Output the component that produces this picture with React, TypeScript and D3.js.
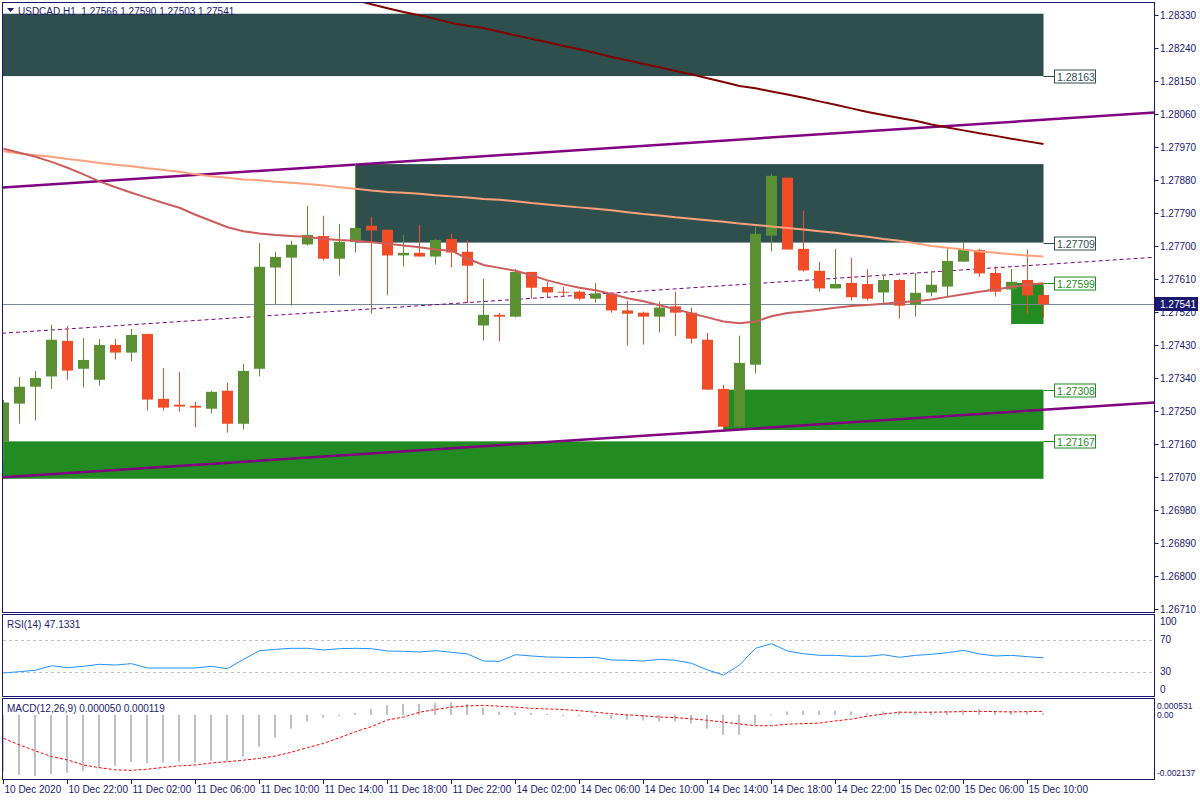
import { useEffect, useRef } from "react"
import * as d3 from "d3"

// USDCAD H1 candles: open, high, low, close
const candles: [number, number, number, number][] = [
  [1.27166, 1.2728, 1.27108, 1.27273],
  [1.2727, 1.27343, 1.27215, 1.27316],
  [1.27316, 1.27359, 1.27224, 1.2734],
  [1.27344, 1.27485, 1.2731, 1.27444],
  [1.27441, 1.27482, 1.27335, 1.2736],
  [1.27365, 1.27449, 1.27314, 1.27389],
  [1.27335, 1.27446, 1.27319, 1.2743],
  [1.2743, 1.27446, 1.2739, 1.27409],
  [1.27409, 1.27474, 1.27385, 1.27457],
  [1.2746, 1.2746, 1.27251, 1.27281],
  [1.27283, 1.27367, 1.27251, 1.27259],
  [1.27267, 1.27356, 1.27248, 1.27262],
  [1.27264, 1.27275, 1.27205, 1.27259],
  [1.27256, 1.27305, 1.27243, 1.27302],
  [1.27305, 1.27327, 1.27191, 1.27215],
  [1.27215, 1.27378, 1.27199, 1.27359],
  [1.27365, 1.27708, 1.27344, 1.27643],
  [1.27641, 1.27684, 1.2754, 1.2767],
  [1.27668, 1.27714, 1.27537, 1.27703],
  [1.27704, 1.27809, 1.27701, 1.2773],
  [1.27727, 1.27782, 1.2766, 1.27665],
  [1.27665, 1.2776, 1.27619, 1.27711],
  [1.27711, 1.27923, 1.27682, 1.27749],
  [1.27755, 1.27779, 1.27515, 1.27742],
  [1.27744, 1.27744, 1.27565, 1.27674],
  [1.27674, 1.2773, 1.27644, 1.27681],
  [1.27681, 1.27757, 1.27671, 1.27671],
  [1.27671, 1.27719, 1.27649, 1.27716],
  [1.27719, 1.27733, 1.27641, 1.27682],
  [1.27684, 1.27716, 1.27544, 1.27646],
  [1.27483, 1.2761, 1.27442, 1.27512],
  [1.27512, 1.27517, 1.2744, 1.27507],
  [1.27507, 1.27637, 1.27505, 1.27629],
  [1.27629, 1.27629, 1.27556, 1.27586],
  [1.27588, 1.27602, 1.2756, 1.27573],
  [1.27575, 1.27589, 1.27562, 1.27573],
  [1.27575, 1.27578, 1.27551, 1.27556],
  [1.27556, 1.27599, 1.27545, 1.2757],
  [1.2757, 1.2757, 1.27518, 1.27524],
  [1.27524, 1.27551, 1.27428, 1.27515],
  [1.27518, 1.27521, 1.27431, 1.27507],
  [1.27507, 1.27548, 1.27464, 1.27532],
  [1.27535, 1.27575, 1.27455, 1.27518],
  [1.27518, 1.27532, 1.27434, 1.27447],
  [1.27444, 1.27463, 1.27308, 1.27308],
  [1.2731, 1.27321, 1.27202, 1.27207],
  [1.27207, 1.27455, 1.27202, 1.27381],
  [1.27376, 1.27755, 1.27352, 1.27733],
  [1.27728, 1.27896, 1.27685, 1.27891],
  [1.27886, 1.27886, 1.2769, 1.2769],
  [1.27692, 1.27796, 1.2763, 1.27633],
  [1.27632, 1.27656, 1.27575, 1.27584],
  [1.27584, 1.27692, 1.27584, 1.27596],
  [1.27599, 1.27667, 1.27551, 1.2756],
  [1.27596, 1.27637, 1.27551, 1.27556],
  [1.27573, 1.27618, 1.27543, 1.27607],
  [1.27607, 1.2761, 1.27502, 1.27537],
  [1.2754, 1.27626, 1.27507, 1.27572],
  [1.27573, 1.27632, 1.27562, 1.27594],
  [1.27589, 1.27697, 1.27562, 1.27659],
  [1.27657, 1.27711, 1.27657, 1.27689],
  [1.27689, 1.27692, 1.27616, 1.27625],
  [1.27626, 1.27644, 1.27562, 1.27575],
  [1.27581, 1.27637, 1.27486, 1.27602],
  [1.27607, 1.2769, 1.27513, 1.27565],
  [1.27566, 1.2759, 1.27503, 1.27541],
]

// moving averages (fast = indian red, slow = light salmon, long = maroon)
const maFast = [
  1.27965, 1.27954, 1.27943, 1.27929, 1.27913, 1.27895, 1.27876, 1.2786, 1.27845, 1.27831,
  1.27817, 1.27804, 1.27785, 1.27768, 1.27751, 1.2774, 1.27734, 1.2773, 1.27727, 1.27725,
  1.27719, 1.27716, 1.27714, 1.2771, 1.27706, 1.27701, 1.27696, 1.2769, 1.27687, 1.27665,
  1.27648, 1.2764, 1.27632, 1.2762, 1.27606, 1.27595, 1.27586, 1.27579, 1.27569, 1.27557,
  1.27549, 1.27538, 1.27527, 1.27516, 1.27505, 1.27494, 1.27489, 1.27494, 1.27508, 1.27517,
  1.27521, 1.27526, 1.27531, 1.27536, 1.27539, 1.27542, 1.27546, 1.27549, 1.27554, 1.27561,
  1.27568, 1.27575, 1.27581, 1.27588, 1.27594, 1.27598,
]
const maSlow = [
  1.27958, 1.27952, 1.27947, 1.27943, 1.27937, 1.27932, 1.27926, 1.27921, 1.27917, 1.27912,
  1.27907, 1.27902, 1.27895, 1.2789, 1.27886, 1.27881, 1.27879, 1.27875, 1.27872, 1.27869,
  1.27865, 1.2786, 1.27856, 1.27851, 1.27847, 1.27845, 1.27842, 1.27838, 1.27835, 1.27832,
  1.27828, 1.27826, 1.27822, 1.27817, 1.27813, 1.27809, 1.27805, 1.27801, 1.27797, 1.27792,
  1.27787, 1.27783, 1.27778, 1.27774, 1.2777, 1.27766, 1.27761, 1.27757, 1.27753, 1.27749,
  1.27745, 1.2774, 1.27736, 1.2773, 1.27725, 1.27719, 1.27714, 1.27707, 1.277, 1.27695,
  1.2769, 1.27685, 1.27681, 1.27677, 1.27674, 1.27671,
]
const maLongFrom = 21
const maLong = [
  1.2838, 1.2837, 1.28359, 1.28348, 1.28338, 1.28329, 1.28319, 1.28308, 1.283, 1.28294,
  1.28284, 1.28274, 1.28265, 1.28255, 1.28245, 1.28236, 1.28226, 1.28215, 1.28206, 1.28196,
  1.28187, 1.28177, 1.28168, 1.28157, 1.28147, 1.28136, 1.2813, 1.28121, 1.28113, 1.28104,
  1.28094, 1.28085, 1.28075, 1.28065, 1.28057, 1.28049, 1.28041, 1.28031, 1.28023, 1.28015,
  1.28007, 1.28, 1.27992, 1.27985, 1.27978,
]

const rsi = [
  28.1, 29.8, 31.5, 37.3, 34.8, 36.5, 39.0, 38.1, 39.8, 34.4,
  34.4, 34.4, 34.4, 36.5, 33.5, 45.2, 56.0, 57.7, 59.0, 59.0,
  56.9, 58.5, 59.0, 58.5, 55.6, 55.2, 54.4, 56.0, 54.0, 51.9,
  43.1, 42.7, 51.0, 49.4, 48.1, 47.7, 47.3, 47.7, 44.4, 44.0,
  43.1, 45.2, 44.0, 40.2, 31.9, 25.6, 38.1, 59.0, 64.8, 55.6,
  52.2, 50.2, 50.2, 49.0, 49.0, 51.0, 47.7, 50.2, 51.5, 53.5,
  56.5, 51.9, 49.4, 50.2, 48.5, 47.1331,
]

const macdMain = [
  -0.00189, -0.002, -0.00204, -0.00197, -0.00193, -0.00187, -0.00177, -0.0017, -0.00157, -0.00161,
  -0.00159, -0.00156, -0.00159, -0.00153, -0.00153, -0.00139, -0.00106, -0.00076, -0.00046, -0.00022,
  -0.00009, -0.00001, 0.00007, 0.0002, 0.00033, 0.00037, 0.00037, 0.0004, 0.00042, 0.00036,
  0.00025, 0.00011, 0.00009, 0.00007, 0.00003, -0.00002, -0.00003, -0.00006, -0.00013, -0.00016,
  -0.00018, -0.00022, -0.00022, -0.00029, -0.00046, -0.00067, -0.00067, -0.00033, 0.00002, 0.00011,
  0.00014, 0.00014, 0.00014, 0.00011, 0.00006, 0.00011, 0.00013, 0.00006, 0.00011, 0.00013,
  0.00017, 0.0002, 0.00014, 0.00013, 0.00011, 0.00005,
]
const macdSignal = [
  -0.00078, -0.001, -0.0012, -0.00139, -0.0015, -0.00167, -0.00176, -0.00183, -0.00185, -0.00181,
  -0.00175, -0.0017, -0.00167, -0.0016, -0.00156, -0.00151, -0.00145, -0.00137, -0.00124, -0.00109,
  -0.00095, -0.00076, -0.00056, -0.00039, -0.00017, -0.00007, 0.00009, 0.00018, 0.00026, 0.0003,
  0.00032, 0.00029, 0.00026, 0.00022, 0.0002, 0.00018, 0.00014, 0.00009, 0.00004, 0.0,
  -0.00003, -0.00007, -0.00009, -0.00013, -0.00018, -0.00024, -0.0003, -0.00036, -0.00036, -0.00031,
  -0.00029, -0.00027, -0.0002, -0.00014, -0.00004, 0.00003, 0.00009, 0.00009, 0.00009, 0.0001,
  0.00011, 0.00012, 0.00011, 0.0001, 0.00011, 0.000119,
]

// one label every 4 bars
const timeLabels = [
  "10 Dec 2020", "10 Dec 22:00", "11 Dec 02:00", "11 Dec 06:00", "11 Dec 10:00", "11 Dec 14:00",
  "11 Dec 18:00", "11 Dec 22:00", "14 Dec 02:00", "14 Dec 06:00", "14 Dec 10:00", "14 Dec 14:00",
  "14 Dec 18:00", "14 Dec 22:00", "15 Dec 02:00", "15 Dec 06:00", "15 Dec 10:00",
]
const priceTicks = [
  1.2833, 1.2824, 1.2815, 1.2806, 1.2797, 1.2788, 1.2779, 1.277, 1.2761, 1.2752,
  1.2743, 1.2734, 1.2725, 1.2716, 1.2707, 1.2698, 1.2689, 1.268, 1.2671,
]
const rsiTicks = [100, 70, 30, 0]
const rsiLevels = [70, 30]
const macdTicks = [0.000531, 0, -0.002137]

// supply / demand rectangles (bar index from..to, price top..bottom)
const zones = [
  { from: -5, to: 65, top: 1.28333, bottom: 1.28163, kind: "supply" },
  { from: 22, to: 65, top: 1.27923, bottom: 1.27709, kind: "supply" },
  { from: 63, to: 65, top: 1.27599, bottom: 1.27487, kind: "demand" },
  { from: 45, to: 65, top: 1.27308, bottom: 1.27198, kind: "demand" },
  { from: -5, to: 65, top: 1.27167, bottom: 1.27065, kind: "demand" },
]
const levels = [
  { price: 1.28163, kind: "supply" },
  { price: 1.27709, kind: "supply" },
  { price: 1.27599, kind: "demand" },
  { price: 1.27308, kind: "demand" },
  { price: 1.27167, kind: "demand" },
]
// channel lines, anchored at two bars
const trendLines = [
  { i0: 0, p0: 1.27859, i1: 65, p1: 1.28044, dashed: false },
  { i0: 0, p0: 1.27462, i1: 65, p1: 1.27649, dashed: true },
  { i0: 0, p0: 1.27069, i1: 65, p1: 1.27253, dashed: false },
]
const symbol = "USDCAD,H1"
const bid = 1.27541

export default function App() {
  const svgRef = useRef<SVGSVGElement>(null)

  useEffect(() => {
    if (!svgRef.current) return
    const svg = d3.select(svgRef.current)
    svg.selectAll("*").remove()

    const font = "'Liberation Sans', Arial, sans-serif"
    const navy = "#191970"
    const zoneColor: Record<string, string> = { supply: "#2F4F4F", demand: "#228B22" }
    const bull = "#5B9032"
    const bear = "#F24C27"
    const axisX = 1154.5

    const x = d3.scaleLinear().domain([0, candles.length - 1]).range([3.5, 1043.5])
    const y = d3.scaleLinear().domain([1.26699, 1.28365]).range([613, 2])
    const yRsi = d3.scaleLinear().domain([0, 100]).range([695.5, 615.5])
    const yMacd = d3.scaleLinear().domain([-0.002137, 0.000531]).range([779, 699])

    svg.append("rect").attr("width", 1200).attr("height", 800).attr("fill", "#ffffff")

    const defs = svg.append("defs")
    const clip = (id: string, top: number, h: number) =>
      defs.append("clipPath").attr("id", id).append("rect")
        .attr("x", 3).attr("y", top).attr("width", axisX - 3).attr("height", h)
    clip("clip-main", 3, 609)
    clip("clip-rsi", 615, 81)
    clip("clip-macd", 699, 80)

    // ---------- main price panel ----------
    const main = svg.append("g").attr("clip-path", "url(#clip-main)")

    zones.forEach((z) => {
      main.append("rect")
        .attr("x", x(z.from))
        .attr("width", x(z.to) - x(z.from))
        .attr("y", y(z.top))
        .attr("height", y(z.bottom) - y(z.top))
        .attr("fill", zoneColor[z.kind])
    })

    const bidY = Math.round(y(bid)) + 0.5
    main.append("line")
      .attr("x1", 3).attr("x2", axisX).attr("y1", bidY).attr("y2", bidY)
      .attr("stroke", "#778899").attr("stroke-width", 1)

    // channel, extended to both edges of the panel
    const iLeft = x.invert(2)
    const iRight = x.invert(axisX)
    trendLines.forEach((t) => {
      const at = (i: number) => t.p0 + ((t.p1 - t.p0) * (i - t.i0)) / (t.i1 - t.i0)
      main.append("line")
        .attr("x1", x(iLeft)).attr("y1", y(at(iLeft)))
        .attr("x2", x(iRight)).attr("y2", y(at(iRight)))
        .attr("stroke", "#800080")
        .attr("stroke-width", t.dashed ? 1 : 2.5)
        .attr("stroke-dasharray", t.dashed ? "4,3" : null)
    })

    // candles
    const g = main.append("g")
    candles.forEach(([o, h, l, c], i) => {
      const col = c >= o ? bull : bear
      const cx = x(i)
      g.append("line")
        .attr("x1", cx).attr("x2", cx).attr("y1", y(h)).attr("y2", y(l))
        .attr("stroke", col).attr("stroke-width", 1)
      const top = y(Math.max(o, c))
      const bottom = y(Math.min(o, c))
      g.append("rect")
        .attr("x", cx - 5.5).attr("width", 11)
        .attr("y", top).attr("height", Math.max(1, bottom - top))
        .attr("fill", col)
    })

    const line = d3.line<number>().x((_, i) => x(i)).y((d) => y(d))
    main.append("path").attr("d", line(maSlow)).attr("fill", "none")
      .attr("stroke", "#FFA07A").attr("stroke-width", 2)
    main.append("path").attr("d", line(maFast)).attr("fill", "none")
      .attr("stroke", "#CD5C5C").attr("stroke-width", 2)
    const longLine = d3.line<number>().x((_, i) => x(i + maLongFrom)).y((d) => y(d))
    main.append("path").attr("d", longLine(maLong)).attr("fill", "none")
      .attr("stroke", "#800000").attr("stroke-width", 2)

    // price labels at the right end of the zones
    levels.forEach((lv) => {
      const ly = Math.round(y(lv.price)) + 0.5
      const col = zoneColor[lv.kind]
      svg.append("line")
        .attr("x1", x(candles.length - 1)).attr("x2", 1054.5).attr("y1", ly).attr("y2", ly)
        .attr("stroke", col)
      svg.append("rect")
        .attr("x", 1054.5).attr("y", ly - 6.5).attr("width", 41).attr("height", 13)
        .attr("fill", "#ffffff").attr("stroke", col)
      svg.append("text")
        .attr("x", 1057).attr("y", ly + 0.5)
        .attr("dominant-baseline", "central")
        .attr("font-family", font).attr("font-size", 10.5)
        .attr("fill", col)
        .text(lv.price.toFixed(5))
    })

    // header
    svg.append("path").attr("d", "M7,8 L14,8 L10.5,12 Z").attr("fill", navy)
    const last = candles[candles.length - 1]
    svg.append("text")
      .attr("x", 18).attr("y", 11)
      .attr("dominant-baseline", "central")
      .attr("font-family", font).attr("font-size", 10)
      .attr("fill", navy)
      .style("white-space", "pre")
      .text(`${symbol}  ${last.map((v) => v.toFixed(5)).join(" ")}`)

    // ---------- RSI panel ----------
    const rsiG = svg.append("g").attr("clip-path", "url(#clip-rsi)")
    rsiLevels.forEach((lv) => {
      const ly = Math.round(yRsi(lv)) + 0.5
      rsiG.append("line")
        .attr("x1", 3).attr("x2", axisX).attr("y1", ly).attr("y2", ly)
        .attr("stroke", "#C0C0C0").attr("stroke-dasharray", "3,3")
    })
    rsiG.append("path")
      .attr("d", d3.line<number>().x((_, i) => x(i)).y((d) => yRsi(d))(rsi))
      .attr("fill", "none").attr("stroke", "#1E90FF").attr("stroke-width", 1)
    svg.append("text")
      .attr("x", 7).attr("y", 624)
      .attr("dominant-baseline", "central")
      .attr("font-family", font).attr("font-size", 10).attr("fill", navy)
      .text(`RSI(14) ${rsi[rsi.length - 1].toFixed(4)}`)

    // ---------- MACD panel ----------
    const macdG = svg.append("g").attr("clip-path", "url(#clip-macd)")
    macdMain.forEach((v, i) => {
      const y0 = yMacd(0)
      const y1 = yMacd(v)
      macdG.append("rect")
        .attr("x", Math.floor(x(i)) - 1).attr("width", 2)
        .attr("y", Math.min(y0, y1)).attr("height", Math.max(1, Math.abs(y1 - y0)))
        .attr("fill", "#C0C0C0")
    })
    macdG.append("path")
      .attr("d", d3.line<number>().x((_, i) => x(i)).y((d) => yMacd(d))(macdSignal))
      .attr("fill", "none").attr("stroke", "#FF0000").attr("stroke-width", 1)
      .attr("stroke-dasharray", "3,2")
    svg.append("text")
      .attr("x", 7).attr("y", 708)
      .attr("dominant-baseline", "central")
      .attr("font-family", font).attr("font-size", 10).attr("fill", navy)
      .text(`MACD(12,26,9) ${macdMain[macdMain.length - 1].toFixed(6)} ${macdSignal[macdSignal.length - 1].toFixed(6)}`)

    // ---------- frames ----------
    const frame = svg.append("g").attr("stroke", navy).attr("stroke-width", 1).attr("fill", "none")
    ;[
      [2.5, 612.5],
      [614.5, 696.5],
      [698.5, 779.5],
    ].forEach(([t, b]) => {
      frame.append("rect").attr("x", 2.5).attr("y", t).attr("width", axisX - 2.5).attr("height", b - t)
    })

    // ---------- axes ----------
    const axisText = svg.append("g")
      .attr("font-family", font).attr("font-size", 10).attr("fill", navy)

    priceTicks.forEach((p) => {
      const ty = Math.round(y(p)) + 0.5
      svg.append("line").attr("x1", axisX).attr("x2", axisX + 4).attr("y1", ty).attr("y2", ty)
        .attr("stroke", navy)
      axisText.append("text").attr("x", 1160).attr("y", ty)
        .attr("dominant-baseline", "central").text(p.toFixed(5))
    })

    rsiTicks.forEach((v) => {
      const ty = Math.min(Math.max(yRsi(v), 621), 689.5)
      axisText.append("text").attr("x", 1160).attr("y", ty)
        .attr("dominant-baseline", "central").text(String(v))
    })

    macdTicks.forEach((v) => {
      const ty = Math.min(Math.max(yMacd(v), 706), 773)
      axisText.append("text").attr("x", 1157).attr("y", ty)
        .attr("dominant-baseline", "central")
        .attr("font-size", 8.5)
        .text(v === 0 ? "0.00" : v.toFixed(6))
    })

    // bid price tag
    svg.append("rect")
      .attr("x", 1155).attr("y", bidY - 7.5).attr("width", 43).attr("height", 14)
      .attr("fill", navy)
    svg.append("text")
      .attr("x", 1160).attr("y", bidY)
      .attr("dominant-baseline", "central")
      .attr("font-family", font).attr("font-size", 10).attr("fill", "#ffffff")
      .text(bid.toFixed(5))

    // time axis
    timeLabels.forEach((label, k) => {
      const tx = x(k * 4)
      svg.append("line").attr("x1", tx).attr("x2", tx).attr("y1", 779.5).attr("y2", 784)
        .attr("stroke", navy)
      axisText.append("text").attr("x", tx + 1).attr("y", 789)
        .attr("dominant-baseline", "central").text(label)
    })
  }, [])

  return (
    <svg
      ref={svgRef}
      width={1200}
      height={800}
      style={{ position: "absolute", left: 0, top: 0, display: "block" }}
    />
  )
}
